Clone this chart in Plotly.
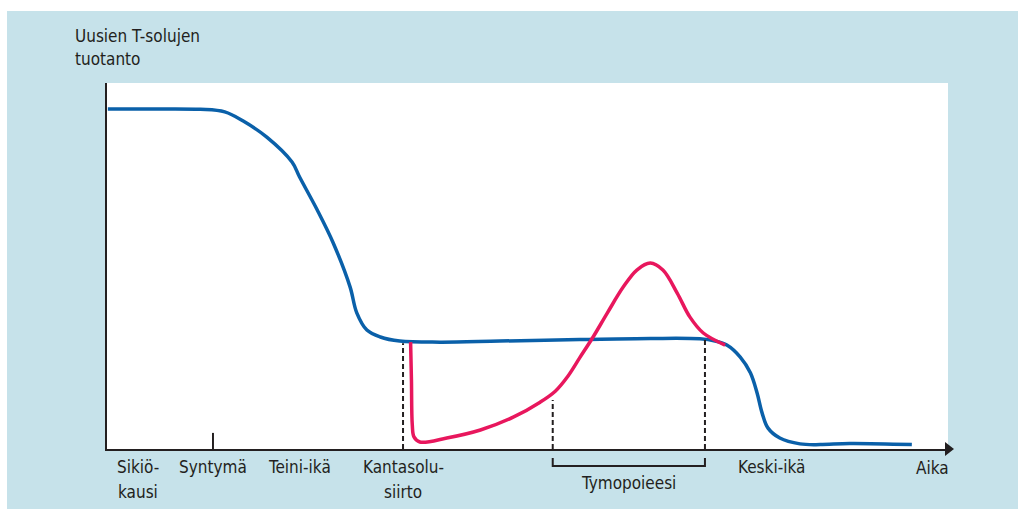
import plotly.graph_objects as go

# ---- data (time units 0-100, production units 0-100) ----
blue_t = [0.1, 5.1, 11.1, 14.0, 16.2, 19.0, 22.0, 22.9, 25.0, 26.9, 28.9, 29.7, 30.9, 32.5,
          34.8, 39.6, 46.7, 56.2, 64.6, 70.5, 72.3, 73.7, 75.3, 76.5, 77.3, 77.9, 78.6,
          80.0, 82.4, 84.8, 88.3, 95.7]
blue_v = [92.9, 92.9, 92.8, 92.1, 89.6, 85.2, 78.4, 74.3, 65.3, 56.3, 44.3, 37.2, 32.5, 30.6,
          29.5, 29.2, 29.5, 29.9, 30.2, 30.1, 29.5, 28.4, 25.1, 20.8, 15.3, 9.8, 5.7,
          3.0, 1.4, 1.2, 1.5, 1.2]

pink_t = [36.1, 36.2, 36.3, 36.5, 37.2, 40.4, 44.4, 48.3, 51.5, 53.3, 54.8, 56.2, 57.8, 59.5,
          61.4, 63.0, 64.6, 66.1, 67.8, 69.3, 70.9, 73.5]
pink_v = [29.2, 18.9, 6.6, 3.3, 1.9, 3.0, 5.2, 8.7, 12.8, 15.8, 19.9, 24.9, 30.6, 37.2,
          44.3, 48.9, 50.8, 48.9, 42.6, 36.1, 31.7, 28.4]

# dashed guide lines: x position and top value
guide_t = [35.2, 53.0, 71.1]
guide_top = [28.9, 13.4, 29.8]

birth_t = 12.6
birth_tick_h = 4.4

y_title = ["Uusien T-solujen", "tuotanto"]
x_title = "Aika"

# x-axis labels: (text lines, center position)
x_labels = [
    (["Sikiö-", "kausi"], 3.7),
    (["Syntymä"], 12.6),
    (["Teini-ikä"], 22.9),
    (["Kantasolu-", "siirto"], 35.2),
    (["Keski-ikä"], 79.0),
]
bracket_label = "Tymopoieesi"
bracket_t = [53.0, 71.1]

# ---- styling ----
BG = "#c6e2ea"
INK = "#231f20"
BLUE = "#0a60a9"
PINK = "#e8175d"
FONT = "DejaVu Sans Condensed, Liberation Sans Narrow, Arial Narrow, sans-serif"
FS = 17

W, H = 1018, 509
L, R, T, B = 107, 948, 83, 449

fig = go.Figure()

fig.add_trace(go.Scatter(x=blue_t, y=blue_v, mode="lines",
                         line=dict(color=BLUE, width=3.5, shape="spline", smoothing=1.0),
                         hoverinfo="skip"))
fig.add_trace(go.Scatter(x=pink_t, y=pink_v, mode="lines",
                         line=dict(color=PINK, width=3.5, shape="spline", smoothing=1.0),
                         hoverinfo="skip"))

# arrow heads
fig.add_trace(go.Scatter(x=[100.0], y=[0], mode="markers", cliponaxis=False,
                         marker=dict(symbol="triangle-right", size=12, color=INK),
                         hoverinfo="skip"))
fig.add_trace(go.Scatter(x=[0], y=[100.5], mode="markers", cliponaxis=False,
                         marker=dict(symbol="triangle-up", size=12, color=INK),
                         hoverinfo="skip"))

shapes = []
for gt, top in zip(guide_t, guide_top):
    shapes.append(dict(type="line", xref="x", yref="y", x0=gt, x1=gt, y0=0, y1=top,
                       line=dict(color=INK, width=2, dash="5px,3px")))
shapes.append(dict(type="line", xref="x", yref="y", x0=birth_t, x1=birth_t, y0=0,
                   y1=birth_tick_h, line=dict(color=INK, width=2)))
px = lambda x: (x - L) / (R - L)
py = lambda y: (B - y) / (B - T)
# bracket under axis
b0 = py(458)
b1 = py(466)
shapes.append(dict(type="path", xref="x", yref="paper",
                   path=f"M {bracket_t[0]} {b0} L {bracket_t[0]} {b1} L {bracket_t[1]} {b1} L {bracket_t[1]} {b0}",
                   line=dict(color=INK, width=2)))
# white outer margin strips
shapes.append(dict(type="rect", xref="paper", yref="paper", layer="below",
                   x0=px(-20), x1=px(W + 20), y0=py(11), y1=py(-20),
                   fillcolor="white", line=dict(width=0)))
shapes.append(dict(type="rect", xref="paper", yref="paper", layer="below",
                   x0=px(-20), x1=px(7), y0=py(H + 20), y1=py(-20),
                   fillcolor="white", line=dict(width=0)))

annotations = []
def lab(text, x, y, xanchor="center", xref="x"):
    annotations.append(dict(text=text, x=x, y=py(y), xref=xref, yref="paper",
                            xanchor=xanchor, yanchor="middle", showarrow=False,
                            font=dict(family=FONT, size=FS, color=INK)))

for lines, t in x_labels:
    for i, ln in enumerate(lines):
        lab(ln, t, 467 + 25 * i)
lab(bracket_label, (bracket_t[0] + bracket_t[1]) / 2, 483)
lab(x_title, 98.2, 468)
lab(y_title[0], px(73), 36, xanchor="left", xref="paper")
lab(y_title[1], px(73), 59, xanchor="left", xref="paper")

fig.update_layout(
    width=W, height=H,
    margin=dict(l=L, r=W - R, t=T, b=H - B, pad=0),
    paper_bgcolor=BG, plot_bgcolor="white",
    showlegend=False, hovermode=False,
    shapes=shapes, annotations=annotations,
    xaxis=dict(range=[0, 100], showgrid=False, zeroline=False, showticklabels=False,
               ticks="", showline=True, linecolor=INK, linewidth=2, fixedrange=True),
    yaxis=dict(range=[0, 100], showgrid=False, zeroline=False, showticklabels=False,
               ticks="", showline=True, linecolor=INK, linewidth=2, fixedrange=True),
)

fig.write_html("out.html", config={"displayModeBar": False},
               post_script="document.body.style.margin='0';document.body.style.overflow='hidden';")
